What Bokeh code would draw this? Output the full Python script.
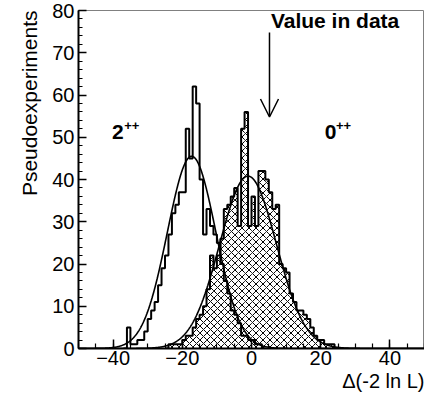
import numpy as np
from bokeh.plotting import figure
from bokeh.models import Range1d, SingleIntervalTicker, Label, Arrow, OpenHead, Title
from bokeh.embed import file_html
from bokeh.resources import INLINE

# ---------------- data ----------------
bin_width = 1.0
# 2++ pseudoexperiments histogram, first bin starts at spin2_first_edge
spin2_first_edge = -37
spin2_counts = [0, 5, 1, 1, 2, 2, 4, 7, 9, 11, 15, 19, 22, 27, 32, 34, 37, 37,
                52, 45, 62, 58, 40, 27, 33, 29, 27, 25, 20, 16, 13, 9, 8, 6,
                3, 3, 2, 2, 1, 1, 0]
# 0++ pseudoexperiments histogram (hatched)
spin0_first_edge = -25
spin0_counts = [0, 1, 1, 1, 1, 2, 3, 3, 5, 7, 8, 10, 14, 22, 19, 22, 26, 33,
                34, 36, 38, 29, 52, 56, 29, 36, 29, 42, 42, 40, 37, 33, 34, 20,
                19, 18, 13, 11, 9, 9, 8, 7, 5, 3, 2, 2, 1, 1, 1, 0]
# Gaussian fit parameters (amplitude, mean, sigma)
spin2_fit = (45.5, -17.3, 7.0)
spin0_fit = (40.8, -1.0, 8.2)
data_value = 5.2
arrow_y = (74.8, 54.8)

x_range = (-50, 50)
y_range = (0, 80)
x_tick_overrides = {-40: "\u221240", -20: "\u221220"}
y_title = "Pseudoexperiments"
x_title = "\u0394(-2 ln L)"
label_2pp = ("2", "++")
label_0pp = ("0", "++")
label_data = "Value in data"

FONT = "Liberation Sans"

W, H = 424, 394
LB, RB, TB, BB = 78, 0, 10, 46

p = figure(width=W, height=H, x_range=Range1d(*x_range), y_range=Range1d(*y_range),
           output_backend="svg", toolbar_location=None,
           min_border_left=LB, min_border_right=RB, min_border_top=TB,
           min_border_bottom=BB)
p.xgrid.visible = False
p.ygrid.visible = False
p.outline_line_color = "#808080"
p.outline_line_width = 1
p.background_fill_color = "white"
p.border_fill_color = "white"


def step_path(first_edge, counts):
    n = len(counts)
    edges = first_edge + bin_width * np.arange(n + 1)
    xs = np.repeat(edges, 2)
    yv = np.concatenate([[0], np.repeat(np.asarray(counts, float), 2), [0]])
    return edges, xs, yv


# 0++ hatched histogram
e0, xs0, ys0 = step_path(spin0_first_edge, spin0_counts)
p.quad(left=e0[:-1], right=e0[1:], bottom=0, top=spin0_counts,
       fill_color=None, line_color=None, hatch_pattern="x",
       hatch_color="black", hatch_weight=1, hatch_scale=7)
p.line(xs0, ys0, line_color="black", line_width=2)

# 2++ histogram
e2, xs2, ys2 = step_path(spin2_first_edge, spin2_counts)
p.line(xs2, ys2, line_color="black", line_width=2)

# fits
xf = np.linspace(x_range[0], x_range[1], 801)
for amp, mu, sig in (spin2_fit, spin0_fit):
    p.line(xf, amp * np.exp(-0.5 * ((xf - mu) / sig) ** 2),
           line_color="black", line_width=1.6)

# arrow
p.add_layout(Arrow(end=OpenHead(size=18, line_width=1.5, line_color="black"),
                   x_start=data_value, y_start=arrow_y[0],
                   x_end=data_value, y_end=arrow_y[1],
                   line_width=1.5, line_color="black"))


# texts
def lab(x, y, text, size, **kw):
    p.add_layout(Label(x=x, y=y, text=text, text_font=FONT,
                       text_font_size=size, text_color="black", **kw))


lab(5.6, 74.8, label_data, "21px", text_font_style="bold")
lab(-40.3, 49.6, label_2pp[0], "21px", text_font_style="bold")
lab(-36.8, 51.8, label_2pp[1], "13px", text_font_style="bold")
lab(21.2, 49.6, label_0pp[0], "21px", text_font_style="bold")
lab(24.4, 51.8, label_0pp[1], "13px", text_font_style="bold")

# axis titles (top / right aligned as in the original)
p.add_layout(Title(text=y_title, align="right", text_font=FONT,
                   text_font_size="21px", text_font_style="normal",
                   text_color="black", standoff=18, offset=0), "left")
p.add_layout(Title(text=x_title, align="right", text_font=FONT,
                   text_font_size="20px", text_font_style="normal",
                   text_color="black", standoff=0, offset=0), "below")

# axes
p.xaxis.ticker = SingleIntervalTicker(interval=20, num_minor_ticks=4)
p.yaxis.ticker = SingleIntervalTicker(interval=10, num_minor_ticks=5)
p.xaxis.major_label_overrides = x_tick_overrides
for ax in (p.xaxis[0], p.yaxis[0]):
    ax.axis_line_width = 2
    ax.axis_line_color = "black"
    ax.major_tick_out = 0
    ax.minor_tick_out = 0
    ax.major_tick_line_color = "black"
    ax.minor_tick_line_color = "black"
    ax.major_tick_line_width = 1.5
    ax.minor_tick_line_width = 1.2
    ax.major_label_text_font = FONT
    ax.major_label_text_font_size = "20px"
    ax.major_label_text_color = "black"
p.xaxis.major_tick_in = 9
p.xaxis.minor_tick_in = 5
p.yaxis.major_tick_in = 8
p.yaxis.minor_tick_in = 4
p.xaxis.major_label_standoff = 2
p.yaxis.major_label_standoff = 4

open("out.html", "w").write(file_html(p, INLINE))
